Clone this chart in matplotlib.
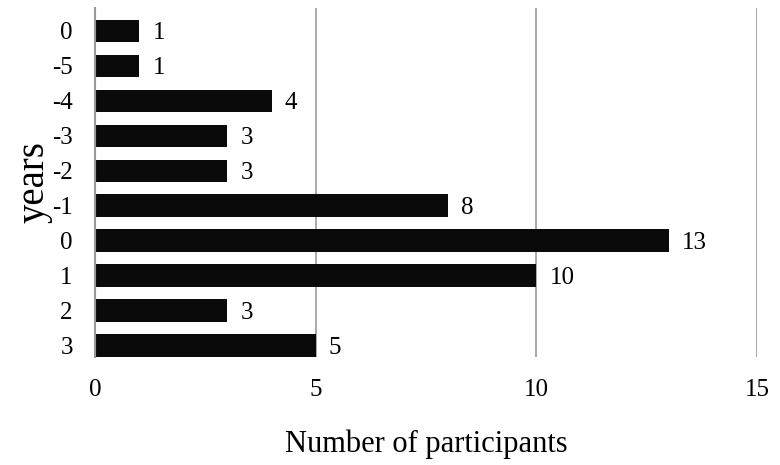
import matplotlib
matplotlib.use("Agg")
import matplotlib.pyplot as plt

years = ["0", "-5", "-4", "-3", "-2", "-1", "0", "1", "2", "3"]
participants = [1, 1, 4, 3, 3, 8, 13, 10, 3, 5]
xticks = [0, 5, 10, 15]

plt.rcParams["font.family"] = ["Liberation Serif", "DejaVu Serif"]

fig = plt.figure(figsize=(7.8, 4.65), dpi=100)
ax = fig.add_axes([0.1218, 0.232, 0.8487, 0.751])

pos = list(range(len(years)))
ax.barh(pos, participants, height=0.65, color="#0a0a0a", zorder=3)
for p, v in zip(pos, participants):
    ax.text(v + 0.3, p, str(v), va="center_baseline", ha="left", fontsize=18)

ax.set_xlim(0, 15)
ax.set_ylim(9.325, -0.66)
ax.set_yticks(pos)
ax.set_yticklabels(years, fontsize=18, va="center_baseline")
ax.set_xticks(xticks)
ax.set_xticklabels([str(t) for t in xticks], fontsize=18)
ax.tick_params(axis="y", length=0, pad=16)
ax.tick_params(axis="x", length=0, pad=16)

ax.grid(axis="x", color="#999999", linewidth=1.2, zorder=0)
for s in ["top", "right", "bottom"]:
    ax.spines[s].set_visible(False)
ax.spines["left"].set_color("#999999")
ax.spines["left"].set_linewidth(1.5)
ax.spines["left"].set_zorder(4)

ax.set_xlabel("Number of participants", fontsize=22, labelpad=20)
ax.set_ylabel("years", fontsize=28, labelpad=0)

fig.savefig("out.png", dpi=100)
